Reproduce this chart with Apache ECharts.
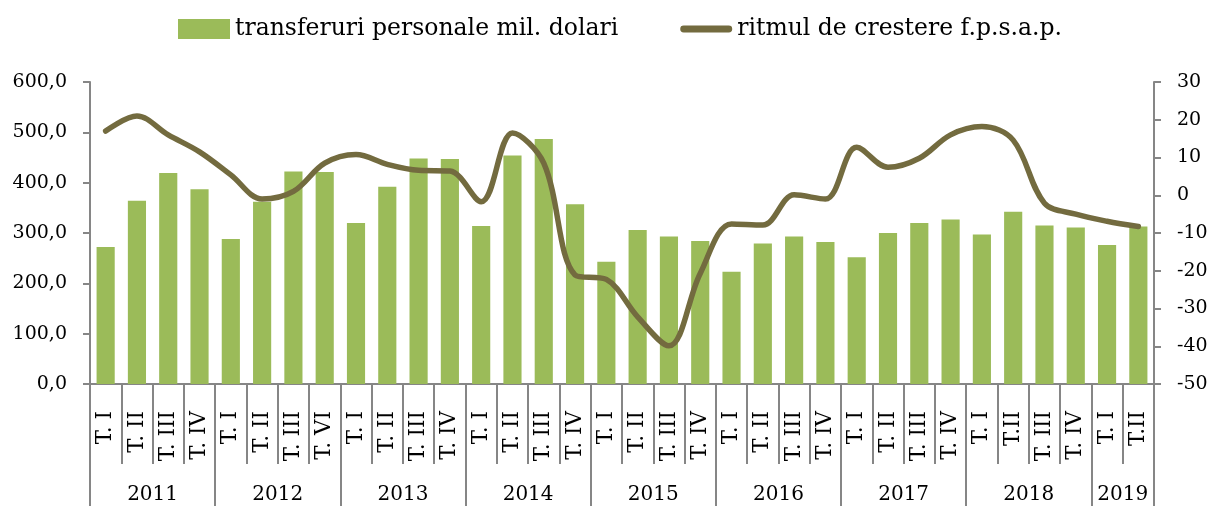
<!DOCTYPE html>
<html>
<head>
<meta charset="utf-8">
<script src="https://cdn.jsdelivr.net/npm/echarts@6/dist/echarts.min.js"></script>
<style>
  html, body { margin: 0; padding: 0; background: #fff; }
  #chart { width: 1212px; height: 506px; }
</style>
</head>
<body>
<div id="chart"></div>
<script>
// Quarterly personal transfers (mil. USD) and growth rate vs. same period of previous year
const quarters = [
  'T. I', 'T. II', 'T. III', 'T. IV',
  'T. I', 'T. II', 'T. III', 'T. VI',
  'T. I', 'T. II', 'T. III', 'T. IV',
  'T. I', 'T. II', 'T. III', 'T. IV',
  'T. I', 'T. II', 'T. III', 'T. IV',
  'T. I', 'T. II', 'T. III', 'T. IV',
  'T. I', 'T. II', 'T. III', 'T. IV',
  'T. I', 'T.II', 'T. III', 'T. IV',
  'T. I', 'T.II'
];
const years = ['2011', '2012', '2013', '2014', '2015', '2016', '2017', '2018', '2019'];
const quartersPerYear = [4, 4, 4, 4, 4, 4, 4, 4, 2];

const transfers = [
  272, 364, 419, 387,
  288, 362, 422, 421,
  320, 392, 448, 447,
  314, 454, 487, 357,
  243, 306, 293, 284,
  223, 279, 293, 282,
  252, 300, 320, 327,
  297, 342, 315, 311,
  276, 313
];
const growth = [
  17.0, 21.0, 16.0, 11.5,
  5.4, -1.0, 1.0, 8.5,
  10.8, 8.2, 6.6, 6.4,
  -1.7, 16.5, 8.5, -21.1,
  -22.3, -32.2, -39.9, -20.7,
  -7.6, -7.9, 0.1, -1.0,
  12.7, 7.4, 9.8, 16.0,
  18.2, 14.6, -2.1, -5.0,
  -6.9, -8.3
];

const leftTicks = { min: 0, max: 600, interval: 100 };
const rightTicks = { min: -50, max: 30, interval: 10 };

// Year band axis: one slot per quarter boundary (0..N), year name at the band centre
const yearEdges = [0];
const yearCentres = [];
quartersPerYear.forEach(function (n, i) {
  const start = yearEdges[i];
  yearEdges.push(start + n);
  yearCentres.push(start + n / 2);
});
const boundarySlots = [];
for (let k = 0; k <= quarters.length; k++) {
  const yi = yearCentres.indexOf(k);
  boundarySlots.push(yi >= 0 ? years[yi] : '');
}

const FONT = 'DejaVu Serif';
const AXIS_GRAY = '#868686';
const BAR_GREEN = '#9BBB59';
const LINE_OLIVE = '#736B3F';

const PLOT = { left: 90, right: 58, top: 82, bottom: 122 };
const QUARTER_BAND = 80;   // height of the quarter label cells
const YEAR_BAND = 122;     // height down to the bottom of the year cells

const chart = echarts.init(document.getElementById('chart'), null, { renderer: 'canvas' });

const hiddenY = function (gridIndex) {
  return { type: 'value', gridIndex: gridIndex, show: false, min: 0, max: 1 };
};

chart.setOption({
  animation: false,
  backgroundColor: '#fff',
  textStyle: { fontFamily: FONT, color: '#000' },
  legend: {
    top: 17,
    left: 178,
    padding: 0,
    itemWidth: 52,
    itemHeight: 20,
    itemGap: 62,
    textStyle: { fontFamily: FONT, fontSize: 23.5, color: '#000' },
    data: [
      { name: 'transferuri personale mil. dolari', icon: 'rect' },
      { name: 'ritmul de crestere f.p.s.a.p.', icon: 'path://M4,0 L56,0 A4,4 0 0 1 56,8 L4,8 A4,4 0 0 1 4,0 Z' }
    ]
  },
  grid: [
    { left: PLOT.left, right: PLOT.right, top: PLOT.top, bottom: PLOT.bottom, containLabel: false },
    // cell band under the plot for the quarter separators
    { left: PLOT.left, right: PLOT.right, bottom: PLOT.bottom - QUARTER_BAND, height: QUARTER_BAND, containLabel: false },
    // cell band under the plot for the year separators
    { left: PLOT.left, right: PLOT.right, bottom: PLOT.bottom - YEAR_BAND, height: YEAR_BAND, containLabel: false }
  ],
  xAxis: [
    {
      gridIndex: 0,
      type: 'category',
      data: quarters,
      position: 'bottom',
      boundaryGap: true,
      axisLine: { show: true, lineStyle: { color: AXIS_GRAY, width: 2 } },
      axisTick: { show: false },
      axisLabel: {
        interval: 0, rotate: 90, margin: 27,
        fontFamily: FONT, fontSize: 21.5, color: '#000'
      },
      splitLine: { show: false }
    },
    {
      gridIndex: 0,
      type: 'category',
      data: boundarySlots,
      position: 'bottom',
      offset: 0,
      boundaryGap: false,
      axisLine: { show: false },
      axisTick: { show: false },
      axisLabel: {
        interval: function (idx) { return yearCentres.indexOf(idx) >= 0; },
        margin: 101,
        fontFamily: FONT, fontSize: 20, color: '#000'
      },
      splitLine: { show: false }
    },
    {
      gridIndex: 1,
      type: 'category',
      data: quarters,
      boundaryGap: true,
      axisLine: { show: false },
      axisTick: { show: false },
      axisLabel: { show: false },
      splitLine: { show: true, interval: 0, lineStyle: { color: AXIS_GRAY, width: 2 } }
    },
    {
      gridIndex: 2,
      type: 'category',
      data: boundarySlots,
      boundaryGap: false,
      axisLine: { show: false },
      axisTick: { show: false },
      axisLabel: { show: false },
      splitLine: {
        show: true,
        interval: function (idx) { return yearEdges.indexOf(idx) >= 0; },
        lineStyle: { color: AXIS_GRAY, width: 2 }
      }
    }
  ],
  yAxis: [
    {
      gridIndex: 0,
      type: 'value',
      position: 'left',
      min: leftTicks.min, max: leftTicks.max, interval: leftTicks.interval,
      axisLine: { show: true, lineStyle: { color: AXIS_GRAY, width: 2 } },
      axisTick: { show: true, length: 7, lineStyle: { color: AXIS_GRAY, width: 2 } },
      axisLabel: {
        margin: 23, fontFamily: FONT, fontSize: 19, color: '#000',
        formatter: function (v) { return v.toFixed(1).replace('.', ','); }
      },
      splitLine: { show: false }
    },
    {
      gridIndex: 0,
      type: 'value',
      position: 'right',
      min: rightTicks.min, max: rightTicks.max, interval: rightTicks.interval,
      axisLine: { show: true, lineStyle: { color: AXIS_GRAY, width: 2 } },
      axisTick: { show: true, length: 7, lineStyle: { color: AXIS_GRAY, width: 2 } },
      axisLabel: { margin: 23, fontFamily: FONT, fontSize: 19, color: '#000' },
      splitLine: { show: false }
    },
    hiddenY(1),
    hiddenY(2)
  ],
  series: [
    {
      name: 'transferuri personale mil. dolari',
      type: 'bar',
      xAxisIndex: 0,
      yAxisIndex: 0,
      data: transfers,
      barWidth: '58%',
      itemStyle: { color: BAR_GREEN }
    },
    {
      name: 'ritmul de crestere f.p.s.a.p.',
      type: 'line',
      xAxisIndex: 0,
      yAxisIndex: 1,
      data: growth,
      smooth: 0.35,
      symbol: 'none',
      lineStyle: { color: LINE_OLIVE, width: 5.5, cap: 'round', join: 'round' },
      itemStyle: { color: LINE_OLIVE }
    }
  ]
});
</script>
</body>
</html>
